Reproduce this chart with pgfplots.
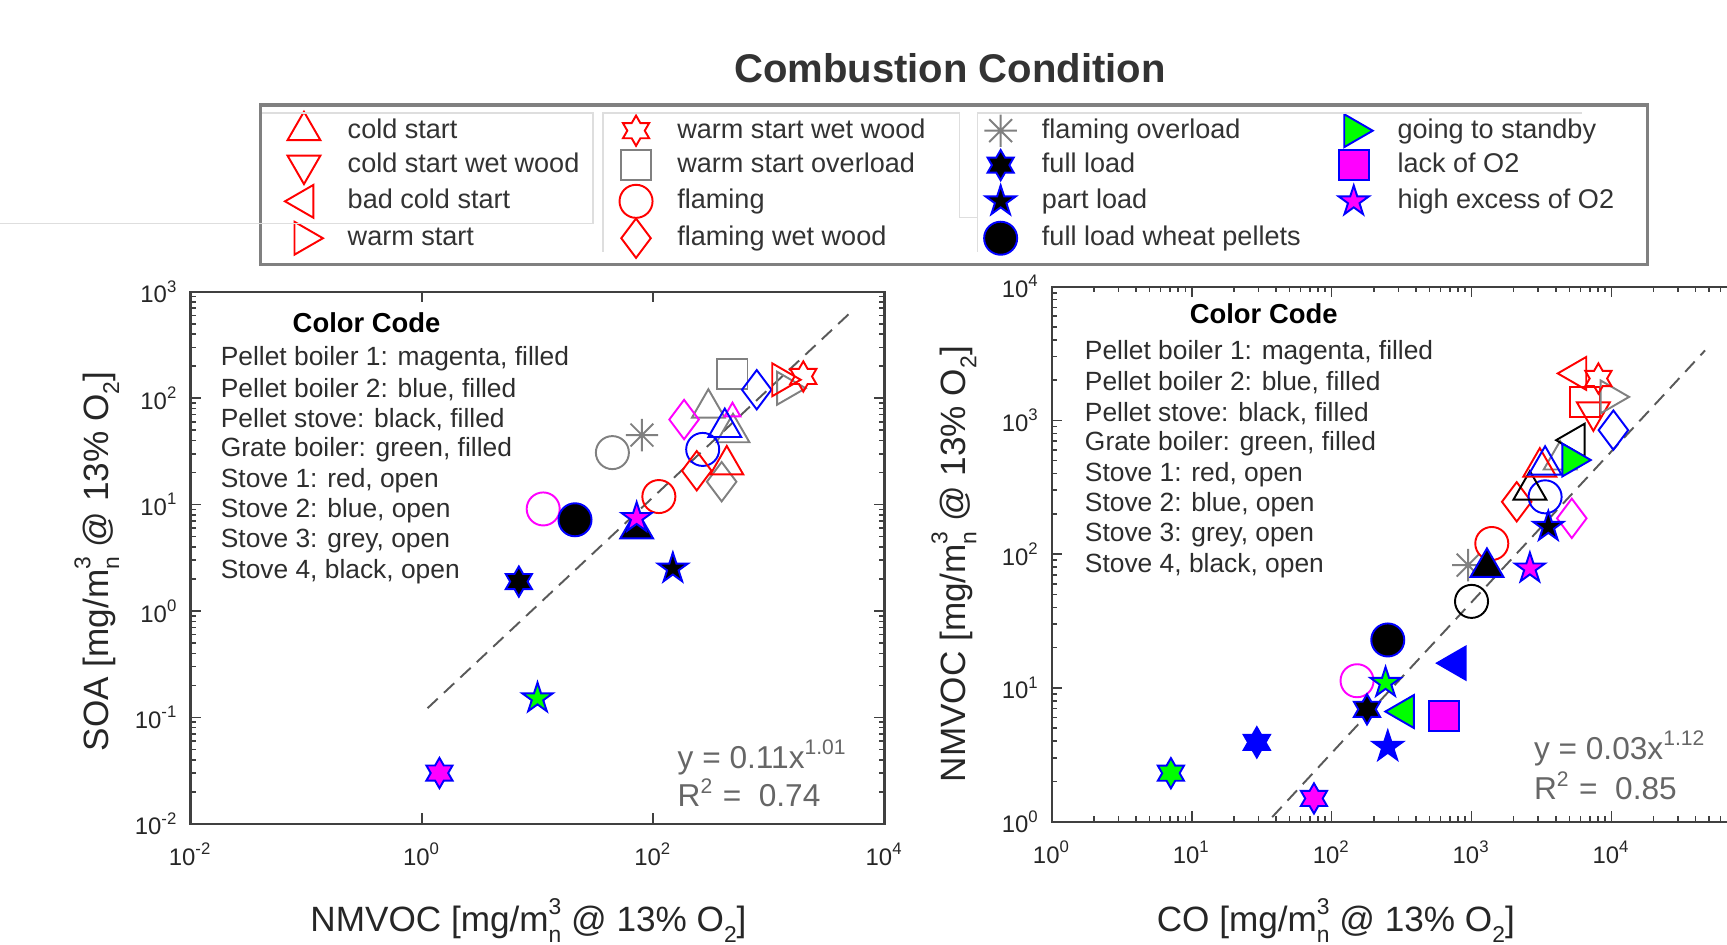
\documentclass[border=0pt]{standalone}
\usepackage{pgfplots}
\pgfplotsset{compat=1.18}
\usepackage{fontspec}
\setmainfont{Liberation Sans}

\definecolor{mred}{RGB}{255,0,0}
\definecolor{mgrey}{RGB}{128,128,128}
\definecolor{mblue}{RGB}{0,0,255}
\definecolor{mmag}{RGB}{255,0,255}
\definecolor{mgreen}{RGB}{0,255,0}
\definecolor{txt}{RGB}{45,45,45}

% MATLAB-like hexagram, pentagram and 8-arm asterisk
\newcommand\hexpath{%
  \pgfpathmoveto{\pgfpointpolar{90}{\pgfplotmarksize}}%
  \pgfpathlineto{\pgfpointpolar{120}{0.577\pgfplotmarksize}}%
  \pgfpathlineto{\pgfpointpolar{150}{\pgfplotmarksize}}%
  \pgfpathlineto{\pgfpointpolar{180}{0.577\pgfplotmarksize}}%
  \pgfpathlineto{\pgfpointpolar{210}{\pgfplotmarksize}}%
  \pgfpathlineto{\pgfpointpolar{240}{0.577\pgfplotmarksize}}%
  \pgfpathlineto{\pgfpointpolar{270}{\pgfplotmarksize}}%
  \pgfpathlineto{\pgfpointpolar{300}{0.577\pgfplotmarksize}}%
  \pgfpathlineto{\pgfpointpolar{330}{\pgfplotmarksize}}%
  \pgfpathlineto{\pgfpointpolar{0}{0.577\pgfplotmarksize}}%
  \pgfpathlineto{\pgfpointpolar{30}{\pgfplotmarksize}}%
  \pgfpathlineto{\pgfpointpolar{60}{0.577\pgfplotmarksize}}%
  \pgfpathclose}
\newcommand\pentpath{%
  \pgfpathmoveto{\pgfpointpolar{90}{\pgfplotmarksize}}%
  \pgfpathlineto{\pgfpointpolar{126}{0.382\pgfplotmarksize}}%
  \pgfpathlineto{\pgfpointpolar{162}{\pgfplotmarksize}}%
  \pgfpathlineto{\pgfpointpolar{198}{0.382\pgfplotmarksize}}%
  \pgfpathlineto{\pgfpointpolar{234}{\pgfplotmarksize}}%
  \pgfpathlineto{\pgfpointpolar{270}{0.382\pgfplotmarksize}}%
  \pgfpathlineto{\pgfpointpolar{306}{\pgfplotmarksize}}%
  \pgfpathlineto{\pgfpointpolar{342}{0.382\pgfplotmarksize}}%
  \pgfpathlineto{\pgfpointpolar{18}{\pgfplotmarksize}}%
  \pgfpathlineto{\pgfpointpolar{54}{0.382\pgfplotmarksize}}%
  \pgfpathclose}
\pgfdeclareplotmark{hex}{\hexpath\pgfusepathqstroke}
\pgfdeclareplotmark{hex*}{\hexpath\pgfusepathqfillstroke}
\pgfdeclareplotmark{pent}{\pentpath\pgfusepathqstroke}
\pgfdeclareplotmark{pent*}{\pentpath\pgfusepathqfillstroke}
\pgfdeclareplotmark{ast8}{%
  \pgfpathmoveto{\pgfqpoint{-\pgfplotmarksize}{0pt}}\pgfpathlineto{\pgfqpoint{\pgfplotmarksize}{0pt}}%
  \pgfpathmoveto{\pgfqpoint{0pt}{-\pgfplotmarksize}}\pgfpathlineto{\pgfqpoint{0pt}{\pgfplotmarksize}}%
  \pgfpathmoveto{\pgfpointpolar{45}{\pgfplotmarksize}}\pgfpathlineto{\pgfpointpolar{225}{\pgfplotmarksize}}%
  \pgfpathmoveto{\pgfpointpolar{135}{\pgfplotmarksize}}\pgfpathlineto{\pgfpointpolar{315}{\pgfplotmarksize}}%
  \pgfusepathqstroke}

% m with stacked ^3 and _n, as in the MATLAB labels
\newcommand\unit{m\rlap{\raisebox{0.95ex}{\fontsize{6.5}{7}\selectfont 3}}\raisebox{-0.6ex}{\fontsize{6.5}{7}\selectfont n} @ 13\% O\raisebox{-0.6ex}{\fontsize{6.5}{7}\selectfont 2}}

\pgfplotsset{
  op/.style n args={3}{only marks, mark=#1, color=#2, mark options={solid, line width=0.55pt, #3}},
  fp/.style n args={3}{only marks, mark=#1, mark options={solid, draw=mblue, fill=#2, line width=0.55pt, #3}},
  sT/.style={mark size=5.4pt}, sC/.style={mark size=4.7pt}, sS/.style={mark size=4.3pt},
  sD/.style={mark size=5.6pt}, sH/.style={mark size=4.3pt}, sP/.style={mark size=4.5pt},
  sA/.style={mark size=4.6pt},
  mlab/.style={
    scale only axis,
    axis line style={black!75, line width=0.6pt},
    tick style={black!75, line width=0.45pt},
    major tick length=3pt, minor tick length=1.6pt, tick align=inside,
    ticklabel style={font=\fontsize{6.8}{7.5}\selectfont, text=black!85},
    xticklabel style={yshift=-2pt},
    label style={font=\fontsize{10}{12}\selectfont, text=black!85},
  },
  fitline/.style={black!65, line width=0.55pt, dash pattern=on 4pt off 2.4pt},
}

\begin{document}
\begin{tikzpicture}
\useasboundingbox (0,0) rectangle (17.27cm,9.45cm);
\clip (0,0) rectangle (17.27cm,9.45cm);

% ---------------- left: SOA vs NMVOC ----------------
\begin{loglogaxis}[mlab, at={(1.905cm,1.212cm)}, anchor=south west,
  width=6.94cm, height=5.32cm,
  xmin=1e-2, xmax=1e4, ymin=1e-2, ymax=1e3,
  xtick={1e-2,1,1e2,1e4}, xminorticks=false,
  xticklabels={10\textsuperscript{-2},10\textsuperscript{0},10\textsuperscript{2},10\textsuperscript{4}},
  ytick={1e-2,1e-1,1,1e1,1e2,1e3},
  yticklabels={10\textsuperscript{-2},10\textsuperscript{-1},10\textsuperscript{0},10\textsuperscript{1},10\textsuperscript{2},10\textsuperscript{3}},
  xlabel={NMVOC [mg/\unit]}, ylabel={SOA [mg/\unit]},
  x label style={at={(axis description cs:0.487,-0.182)}, anchor=center},
  y label style={at={(axis description cs:-0.135,0.493)}, anchor=center},
]
\addplot[fitline] coordinates {(1.12,0.122) (5176,651)};
% stove 3 (grey, open)
\addplot[op={o}{mgrey}{}, sC] coordinates {(44.4,30.8)};
\addplot[op={ast8}{mgrey}{}, sA] coordinates {(80,45)};
\addplot[op={triangle}{mgrey}{}, sT] coordinates {(300,80.5) (490,47.3)};
\addplot[op={diamond}{mgrey}{}, sD] coordinates {(391,16.4)};
\addplot[op={square}{mgrey}{}, sS] coordinates {(484,169)};
\addplot[op={triangle}{mgrey}{rotate=-90}, sT] coordinates {(1426,124)};
% magenta, open
\addplot[op={o}{mmag}{}, sC] coordinates {(11.2,9.1)};
\addplot[op={diamond}{mmag}{}, sD] coordinates {(185,63)};
\addplot[op={triangle}{mmag}{}, mark size=2.6pt] coordinates {(485,74.5)};
% stove 2 (blue, open)
\addplot[op={o}{mblue}{}, sC] coordinates {(268,33)};
\addplot[op={triangle}{mblue}{}, sT] coordinates {(416,53)};
\addplot[op={diamond}{mblue}{}, sD] coordinates {(786,120)};
% stove 1 (red, open)
\addplot[op={o}{mred}{}, sC] coordinates {(112,11.9)};
\addplot[op={diamond}{mred}{}, sD] coordinates {(238,20.8)};
\addplot[op={triangle}{mred}{}, sT] coordinates {(433,23.6)};
\addplot[op={triangle}{mred}{rotate=-90}, sT] coordinates {(1292,149)};
\addplot[op={hex}{mred}{}, sH] coordinates {(1986,160)};
% filled
\addplot[fp={hex*}{mmag}{}, sH] coordinates {(1.42,0.030)};
\addplot[fp={pent*}{mgreen}{}, sP] coordinates {(10,0.151)};
\addplot[fp={hex*}{black}{}, sH] coordinates {(6.9,1.89)};
\addplot[fp={pent*}{black}{}, sP] coordinates {(148,2.51)};
\addplot[fp={*}{black}{}, sC] coordinates {(21.1,7.2)};
\addplot[fp={triangle*}{black}{}, sT] coordinates {(72,5.9)};
\addplot[fp={pent*}{mmag}{}, sP] coordinates {(72,7.5)};
\end{loglogaxis}

% ---------------- right: NMVOC vs CO ----------------
\begin{loglogaxis}[mlab, at={(10.518cm,1.234cm)}, anchor=south west,
  width=6.995cm, height=5.35cm,
  xmin=1, xmax=1e5, ymin=1, ymax=1e4,
  xtick={1,1e1,1e2,1e3,1e4,1e5},
  xticklabels={10\textsuperscript{0},10\textsuperscript{1},10\textsuperscript{2},10\textsuperscript{3},10\textsuperscript{4},{}},
  ytick={1,1e1,1e2,1e3,1e4},
  yticklabels={10\textsuperscript{0},10\textsuperscript{1},10\textsuperscript{2},10\textsuperscript{3},10\textsuperscript{4}},
  xlabel={CO [mg/\unit]}, ylabel={NMVOC [mg/\unit]},
  x label style={at={(axis description cs:0.406,-0.185)}, anchor=center},
  y label style={at={(axis description cs:-0.140,0.481)}, anchor=center},
]
\addplot[fitline] coordinates {(37.6,1.08) (46700,3333)};
% open markers
\addplot[op={o}{mmag}{}, sC] coordinates {(152,11.3)};
\addplot[op={o}{black}{}, sC] coordinates {(1000,44.3)};
\addplot[op={ast8}{mgrey}{}, sA] coordinates {(947,82.7)};
\addplot[op={o}{mred}{}, sC] coordinates {(1396,120)};
\addplot[op={diamond}{mmag}{}, sD] coordinates {(5210,185)};
\addplot[op={diamond}{mred}{}, sD] coordinates {(2104,246)};
\addplot[op={o}{mblue}{}, sC] coordinates {(3357,268)};
\addplot[op={triangle}{black}{}, sT] coordinates {(2614,301)};
\addplot[op={triangle}{mgrey}{}, sT] coordinates {(4300,505)};
\addplot[op={triangle}{mred}{}, sT] coordinates {(3078,447)};
\addplot[op={triangle}{mblue}{}, sT] coordinates {(3357,462)};
\addplot[op={triangle}{black}{rotate=90}, sT] coordinates {(5500,711)};
\addplot[op={diamond}{mblue}{}, sD] coordinates {(10330,845)};
\addplot[op={square}{mred}{}, sS] coordinates {(6470,1375)};
\addplot[op={triangle}{mred}{rotate=180}, sT] coordinates {(7430,1157)};
\addplot[op={triangle}{mgrey}{rotate=-90}, sT] coordinates {(9790,1497)};
\addplot[op={triangle}{mred}{rotate=90}, sT] coordinates {(5650,2243)};
\addplot[op={hex}{mred}{}, sH] coordinates {(8070,2055)};
% filled markers
\addplot[fp={hex*}{mgreen}{}, sH] coordinates {(7.1,2.30)};
\addplot[fp={hex*}{mblue}{}, sH] coordinates {(29.2,3.91)};
\addplot[fp={hex*}{mmag}{}, sH] coordinates {(74.8,1.49)};
\addplot[fp={pent*}{mblue}{}, sP] coordinates {(252,3.63)};
\addplot[fp={hex*}{black}{}, sH] coordinates {(179,6.91)};
\addplot[fp={triangle*}{mgreen}{rotate=90}, sT] coordinates {(331,6.65)};
\addplot[fp={square*}{mmag}{}, sS] coordinates {(635,6.17)};
\addplot[fp={pent*}{mgreen}{}, sP] coordinates {(243,10.9)};
\addplot[fp={*}{black}{}, sC] coordinates {(252,22.8)};
\addplot[fp={triangle*}{mblue}{rotate=90}, sT] coordinates {(776,15.3)};
\addplot[fp={triangle*}{black}{}, sT] coordinates {(1289,79.6)};
\addplot[fp={pent*}{mmag}{}, sP] coordinates {(2614,78.2)};
\addplot[fp={pent*}{black}{}, sP] coordinates {(3540,160)};
\addplot[fp={triangle*}{mgreen}{rotate=-90}, sT] coordinates {(5210,505)};
\end{loglogaxis}

% ---------------- legend (hidden axis spanning the picture) ----------------
\begin{axis}[at={(0,0)}, anchor=south west, width=17.27cm, height=9.45cm,
  scale only axis, hide axis, xmin=0, xmax=1, ymin=0, ymax=1,
  legend columns=4, legend cell align=left,
  legend style={at={(0.14986,0.89050)}, anchor=north west,
    draw=black!50, line width=0.9pt, fill=white,
    font=\fontsize{7.7}{9}\selectfont, text=black!80,
    inner xsep=7pt, inner ysep=1.9pt, row sep=0pt,
    /tikz/every odd column/.append style={column sep=0.16cm},
    /tikz/every even column/.append style={column sep=0pt},
    nodes={text height=5.6pt, text depth=1.4pt, inner xsep=2.5pt, inner ysep=1.4pt}},
]
\addlegendimage{op={triangle}{mred}{}, sT}\addlegendentry{\makebox[2.63cm][l]{cold start}}
\addlegendimage{op={hex}{mred}{}, sH}\addlegendentry{\makebox[2.98cm][l]{warm start wet wood}}
\addlegendimage{op={ast8}{mgrey}{}, sA}\addlegendentry{\makebox[2.73cm][l]{flaming overload}}
\addlegendimage{fp={triangle*}{mgreen}{rotate=-90}, sT}\addlegendentry{going to standby}
\addlegendimage{op={triangle}{mred}{rotate=180}, sT}\addlegendentry{cold start wet wood}
\addlegendimage{op={square}{mgrey}{}, sS}\addlegendentry{warm start overload}
\addlegendimage{fp={hex*}{black}{}, sH}\addlegendentry{full load}
\addlegendimage{fp={square*}{mmag}{}, sS}\addlegendentry{lack of O2}
\addlegendimage{op={triangle}{mred}{rotate=90}, sT}\addlegendentry{bad cold start}
\addlegendimage{op={o}{mred}{}, sC}\addlegendentry{flaming}
\addlegendimage{fp={pent*}{black}{}, sP}\addlegendentry{part load}
\addlegendimage{fp={pent*}{mmag}{}, sP}\addlegendentry{high excess of O2}
\addlegendimage{op={triangle}{mred}{rotate=-90}, sT}\addlegendentry{warm start}
\addlegendimage{op={diamond}{mred}{}, sD}\addlegendentry{flaming wet wood}
\addlegendimage{fp={*}{black}{}, sC}\addlegendentry{full load wheat pellets}
\addlegendimage{empty legend}\addlegendentry{}
\end{axis}

% ---------------- texts (positions in image pixels, y downwards) ----------------
\begin{scope}[x=0.01cm, y=-0.01cm, shift={(0,9.45cm)}]
  % faint remnants of the original sub-legend frames
  \begin{scope}[black!13, line width=0.35pt]
    \draw (0,223.6) -- (593.3,223.6) -- (593.3,113) -- (262,113);
    \draw (603.3,252) -- (603.3,113) -- (960,113) -- (960,217.3) -- (978.3,217.3);
    \draw (978.3,252) -- (978.3,113) -- (1583,113);
  \end{scope}
  \node[font=\bfseries\fontsize{11.4}{13}\selectfont, text=black!80] at (950.5,68.3) {Combustion Condition};

  \node[font=\bfseries\fontsize{7.8}{9}\selectfont, text=black] at (366.8,322.7) {Color Code};
  \begin{scope}[every node/.style={anchor=west, inner sep=0pt, font=\fontsize{7.5}{9}\selectfont, text=txt}]
    \node at (220.3,359.0) {Pellet boiler 1: magenta, filled};
    \node at (220.3,389.4) {Pellet boiler 2: blue, filled};
    \node at (220.3,419.8) {Pellet stove: black, filled};
    \node at (220.3,450.2) {Grate boiler: green, filled};
    \node at (220.3,480.6) {Stove 1: red, open};
    \node at (220.3,511.0) {Stove 2: blue, open};
    \node at (220.3,541.4) {Stove 3: grey, open};
    \node at (220.3,571.8) {Stove 4, black, open};
  \end{scope}

  \node[font=\bfseries\fontsize{7.8}{9}\selectfont, text=black] at (1264.4,313.9) {Color Code};
  \begin{scope}[every node/.style={anchor=west, inner sep=0pt, font=\fontsize{7.5}{9}\selectfont, text=txt}]
    \node at (1084.9,352.5) {Pellet boiler 1: magenta, filled};
    \node at (1084.9,383.0) {Pellet boiler 2: blue, filled};
    \node at (1084.9,413.5) {Pellet stove: black, filled};
    \node at (1084.9,444.0) {Grate boiler: green, filled};
    \node at (1084.9,474.5) {Stove 1: red, open};
    \node at (1084.9,505.0) {Stove 2: blue, open};
    \node at (1084.9,535.5) {Stove 3: grey, open};
    \node at (1084.9,566.0) {Stove 4, black, open};
  \end{scope}

  \begin{scope}[every node/.style={anchor=west, inner sep=0pt, font=\fontsize{9}{11}\selectfont, text=black!60}]
    \node at (677.4,757.8) {y = 0.11x\textsuperscript{1.01}};
    \node at (677.4,793.0) {R\textsuperscript{2} =\ \ 0.74};
    \node at (1534.2,749.0) {y = 0.03x\textsuperscript{1.12}};
    \node at (1534.2,786.4) {R\textsuperscript{2} =\ \ 0.85};
  \end{scope}
\end{scope}
\end{tikzpicture}
\end{document}
